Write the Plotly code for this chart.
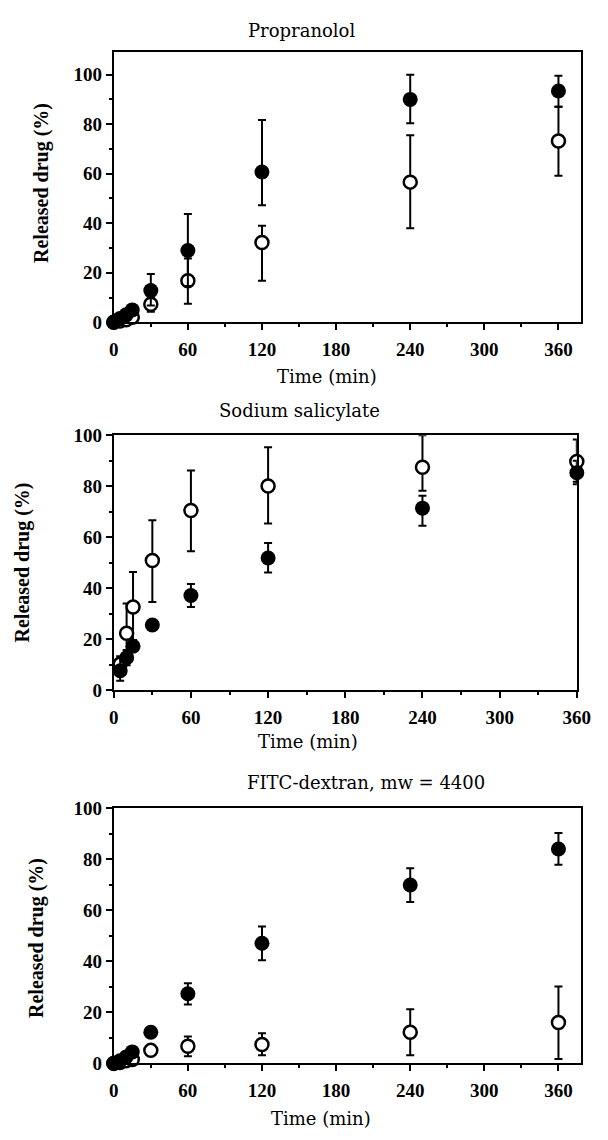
import plotly.graph_objects as go

# ---------------- data ----------------
panel_titles = ["Propranolol", "Sodium salicylate", "FITC-dextran, mw = 4400"]
x_title = "Time (min)"
y_title = "Released drug (%)"
x_ticks = [0, 60, 120, 180, 240, 300, 360]
y_ticks = [0, 20, 40, 60, 80, 100]

# Panel 1: Propranolol
t_prop = [0, 5, 10, 15, 30, 60, 120, 240, 360]
prop_filled = [0, 1.5, 3, 5, 12.8, 29, 60.7, 90, 93.4]
prop_filled_up = [0, 0, 0, 0, 6.7, 14.7, 21, 10, 6.2]
prop_filled_dn = [0, 0, 0, 0, 6, 14.3, 13.4, 9.6, 6.4]
prop_open = [0, 0.5, 1, 2, 7.3, 16.8, 32.2, 56.6, 73.2]
prop_open_up = [0, 0, 0, 0, 3, 9, 6.8, 18.9, 13.8]
prop_open_dn = [0, 0, 0, 0, 3, 9.3, 15.4, 18.6, 14]

# Panel 2: Sodium salicylate
t_sal = [5, 10, 15, 30, 60, 120, 240, 360]
sal_filled = [7.7, 12.8, 17.3, 25.6, 37.2, 51.9, 71.4, 85.3]
sal_filled_up = [5.7, 3, 0, 0, 4.5, 5.8, 4.9, 4.7]
sal_filled_dn = [3.9, 3, 0, 0, 4.5, 5.7, 6.9, 4.5]
sal_open = [10.3, 22.4, 32.7, 50.9, 70.5, 80.1, 87.4, 89.7]
sal_open_up = [0, 11.6, 13.7, 15.8, 15.7, 15.2, 12.6, 8.6]
sal_open_dn = [0, 11, 13, 16.3, 16, 14.7, 9.2, 8]

# Panel 3: FITC-dextran
t_fitc = [0, 5, 10, 15, 30, 60, 120, 240, 360]
fitc_filled = [0, 1, 2.5, 4.5, 12.2, 27.3, 47.1, 69.9, 84]
fitc_filled_up = [0, 0, 0, 0, 0, 4.1, 6.5, 6.6, 6.3]
fitc_filled_dn = [0, 0, 0, 0, 0, 4.2, 6.7, 6.7, 6.2]
fitc_open = [0, 0.3, 1, 1.5, 5.1, 6.7, 7.4, 12.2, 16]
fitc_open_up = [0, 0, 0, 0, 0, 3.8, 4.4, 9, 14.1]
fitc_open_dn = [0, 0, 0, 0, 0, 3.9, 4.2, 9, 14.3]

# ---------------- layout geometry (pixels) ----------------
W, H = 608, 1140
OFF = 8  # default page body margin shifts the figure by 8 px
TICK_FONT = "Liberation Serif"
TEXT_FONT = "DejaVu Serif"

def px_x(p):
    return (p - OFF) / W

def px_y(p):
    return 1 - (p - OFF) / H

panels = [
    dict(t=t_prop, f=prop_filled, fu=prop_filled_up, fd=prop_filled_dn,
         o=prop_open, ou=prop_open_up, od=prop_open_dn,
         xdom=(112, 594), ydom=(43, 318), xr=[0, 378], yr=[0, 109],
         title_xy=(306, 21), xt_xy=(332, 373), yt_xy=(38, 176)),
    dict(t=t_sal, f=sal_filled, fu=sal_filled_up, fd=sal_filled_dn,
         o=sal_open, ou=sal_open_up, od=sal_open_dn,
         xdom=(112, 590), ydom=(433, 693), xr=[0, 360], yr=[0, 100],
         title_xy=(304, 408), xt_xy=(312, 745), yt_xy=(18, 563)),
    dict(t=t_fitc, f=fitc_filled, fu=fitc_filled_up, fd=fitc_filled_dn,
         o=fitc_open, ou=fitc_open_up, od=fitc_open_dn,
         xdom=(112, 594), ydom=(813, 1073), xr=[0, 378], yr=[0, 100],
         title_xy=(372, 787), xt_xy=(326, 1129), yt_xy=(33, 945)),
]

fig = go.Figure()
annotations = []
layout = dict(width=W, height=H, margin=dict(l=0, r=0, t=0, b=0),
              paper_bgcolor="white", plot_bgcolor="white", showlegend=False)

for i, p in enumerate(panels):
    n = "" if i == 0 else str(i + 1)
    xa, ya = "x" + n, "y" + n
    err = lambda up, dn: dict(type="data", symmetric=False, array=up, arrayminus=dn,
                               color="black", thickness=2, width=4)
    fig.add_trace(go.Scatter(
        x=p["t"], y=p["o"], xaxis=xa, yaxis=ya, mode="markers", cliponaxis=False,
        marker=dict(symbol="circle", size=13, color="white",
                    line=dict(color="black", width=2.5)),
        error_y=err(p["ou"], p["od"])))
    fig.add_trace(go.Scatter(
        x=p["t"], y=p["f"], xaxis=xa, yaxis=ya, mode="markers", cliponaxis=False,
        marker=dict(symbol="circle", size=15, color="black",
                    line=dict(color="black", width=0)),
        error_y=err(p["fu"], p["fd"])))

    common = dict(showline=True, linecolor="black", linewidth=2, mirror=True,
                  ticks="outside", ticklen=6, tickwidth=2, tickcolor="black",
                  showgrid=False, zeroline=False,
                  tickfont=dict(family=TICK_FONT, size=19, color="black", weight="bold"))
    layout["xaxis" + n] = dict(common, domain=[px_x(p["xdom"][0]), px_x(p["xdom"][1])],
                               range=p["xr"], tickvals=x_ticks, anchor=ya,
                               ticklabelstandoff=3,
                               minor=dict(ticks="outside", ticklen=3, tickwidth=1.5,
                                          tickcolor="black", dtick=30, tick0=0))
    layout["yaxis" + n] = dict(common, domain=[px_y(p["ydom"][1]), px_y(p["ydom"][0])],
                               range=p["yr"], tickvals=y_ticks, anchor=xa,
                               minor=dict(ticks="outside", ticklen=3, tickwidth=1.5,
                                          tickcolor="black", dtick=10, tick0=0))

    annotations.append(dict(text=panel_titles[i], x=px_x(p["title_xy"][0]),
                            y=px_y(p["title_xy"][1]), xref="paper", yref="paper",
                            xanchor="center", yanchor="middle", showarrow=False,
                            font=dict(family=TEXT_FONT, size=18, color="black")))
    annotations.append(dict(text=x_title, x=px_x(p["xt_xy"][0]),
                            y=px_y(p["xt_xy"][1]), xref="paper", yref="paper",
                            xanchor="center", yanchor="middle", showarrow=False,
                            font=dict(family=TEXT_FONT, size=18, color="black")))
    annotations.append(dict(text=y_title, x=px_x(p["yt_xy"][0]),
                            y=px_y(p["yt_xy"][1]), xref="paper", yref="paper",
                            xanchor="center", yanchor="middle", showarrow=False,
                            textangle=-90,
                            font=dict(family=TICK_FONT, size=20, color="black", weight="bold")))

layout["annotations"] = annotations
fig.update_layout(**layout)
fig.write_html("out.html")
